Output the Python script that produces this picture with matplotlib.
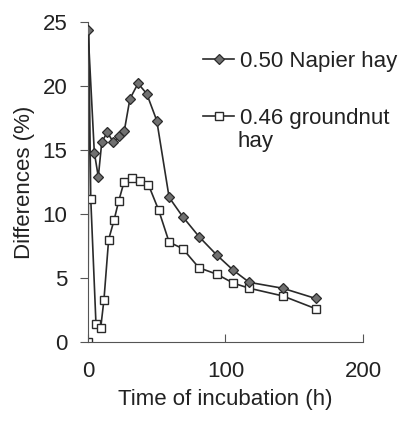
import matplotlib.pyplot as plt

plt.rcParams['font.family'] = ['Liberation Sans', 'DejaVu Sans']

# ---------------------
# Data
# ---------------------
napier_time = [0, 4.6, 7.5, 10, 14, 18.4, 22.8, 26.4, 30.5, 36.4, 42.7, 50,
               59, 68.8, 81, 93.6, 105.7, 117.3, 141.6, 165.6]
napier_diff = [24.4, 14.8, 12.9, 15.6, 16.4, 15.6, 16.1, 16.5, 19.0, 20.2, 19.4, 17.3,
               11.3, 9.8, 8.2, 6.8, 5.6, 4.66, 4.2, 3.4]

groundnut_time = [0, 0.6, 2, 5.8, 9.2, 11.6, 15, 18.9, 22.3, 26.2, 31.8, 37.8, 43.9,
                  51.4, 59, 68.8, 80.7, 93.6, 105.7, 117.3, 141.6, 165.6]
groundnut_diff = [0, 24.0, 11.2, 1.4, 1.07, 3.3, 8.0, 9.5, 11.0, 12.5, 12.85, 12.6, 12.3,
                  10.3, 7.8, 7.3, 5.8, 5.3, 4.6, 4.2, 3.6, 2.6]

labels = ['0.50 Napier hay', '0.46 groundnut']

FS = 16
TXT = '#222222'

# ---------------------
# Plot
# ---------------------
fig = plt.figure(figsize=(4.02, 4.21), dpi=100)
ax = fig.add_axes([88 / 402, 1 - 342 / 421, 275 / 402, 320 / 421])

# groundnut first so the napier diamond sits on top at t=0
# (second groundnut point has no visible marker in the original)
gn_marks = [i for i in range(len(groundnut_time)) if i != 1]
ax.plot(groundnut_time, groundnut_diff, color='#2a2a2a', lw=1.2,
        marker='s', markersize=6, markerfacecolor='white', markevery=gn_marks,
        markeredgecolor='#2a2a2a', markeredgewidth=1.0, label=labels[1], zorder=2)
ax.plot(napier_time, napier_diff, color='#2a2a2a', lw=1.2,
        marker='D', markersize=5, markerfacecolor='#707070',
        markeredgecolor='#2a2a2a', markeredgewidth=0.9, label=labels[0], zorder=3)

ax.set_xlim(0, 200)
ax.set_ylim(0, 25)
ax.set_xticks([0, 100, 200])
ax.set_yticks([0, 5, 10, 15, 20, 25])

for s in ['top', 'right']:
    ax.spines[s].set_visible(False)
for s in ['left', 'bottom']:
    ax.spines[s].set_color('#555555')
    ax.spines[s].set_linewidth(0.8)

ax.tick_params(axis='x', direction='in', length=6, width=0.8, color='#555555',
               pad=14, labelsize=FS, labelcolor=TXT)
ax.tick_params(axis='y', direction='out', length=6, width=0.8, color='#555555',
               pad=9, labelsize=FS, labelcolor=TXT)

ax.set_xlabel('Time of incubation (h)', fontsize=FS, color=TXT)
ax.set_ylabel('Differences (%)', fontsize=FS, color=TXT)
ax.xaxis.set_label_coords(0.5, -(399 - 342) / 320)
ax.yaxis.set_label_coords(-(88 - 25) / 275, 0.5)
ax.xaxis.label.set_va('center')
ax.yaxis.label.set_va('center')

handles, labs = ax.get_legend_handles_labels()
leg = ax.legend(handles[::-1], labs[::-1], loc='upper left',
                bbox_to_anchor=(203 / 402, 1 - 51 / 421), bbox_transform=fig.transFigure,
                frameon=False, fontsize=FS, handlelength=1.4, handletextpad=0.25,
                labelspacing=1.6, borderpad=0, borderaxespad=0)
for t in leg.get_texts():
    t.set_color(TXT)

fig.text(238 / 402, 1 - 142 / 421, 'hay', fontsize=FS, color=TXT,
         ha='left', va='center')

plt.savefig('out.png', dpi=100)
